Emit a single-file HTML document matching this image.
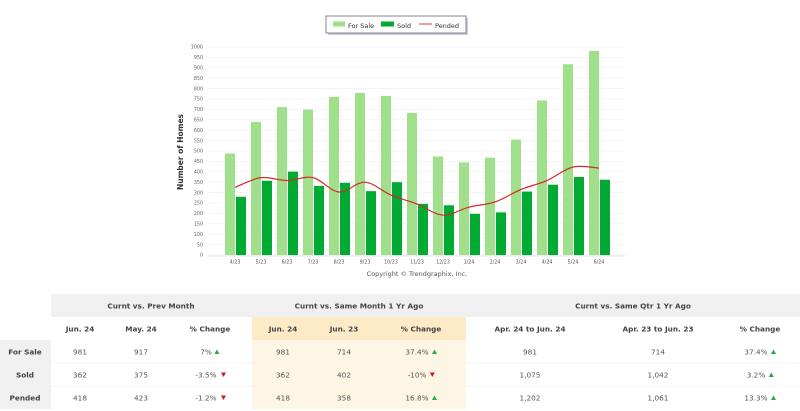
<!DOCTYPE html>
<html><head><meta charset="utf-8"><style>
body{margin:0;width:800px;height:411px;overflow:hidden;background:#fff;font-family:"DejaVu Sans","Liberation Sans",sans-serif;}
svg{position:absolute;left:0;top:0}
</style></head><body>
<svg id="s" width="800" height="411" xmlns="http://www.w3.org/2000/svg">
<rect x="328" y="18" width="140" height="17" fill="#999" opacity="0.5"/>
<rect x="326" y="16" width="140" height="17" fill="#fff" stroke="#7a859c" stroke-width="1"/>
<rect x="333" y="21.5" width="12" height="5" fill="#a0e08a"/>
<text x="348" y="28" font-size="6.5" fill="#333">For Sale</text>
<rect x="381" y="21.5" width="13" height="5" fill="#00aa33"/>
<text x="397" y="28" font-size="6.5" fill="#333">Sold</text>
<line x1="419" y1="24" x2="432" y2="24" stroke="#e08080" stroke-width="1.5"/>
<text x="435" y="28" font-size="6.5" fill="#333">Pended</text>
<g id="g"></g>
<text transform="translate(183,152) rotate(-90)" text-anchor="middle" font-size="7.5" font-weight="bold" fill="#333">Number of Homes</text>
<text x="417" y="276" text-anchor="middle" font-size="6.5" fill="#555">Copyright © Trendgraphix, Inc.</text>
</svg>
<script>
var g=document.getElementById('g'),h='';
function y(v){return 255-v*0.208;}
for(var v=0;v<=1000;v+=50){h+='<line x1="208" x2="625" y1="'+y(v)+'" y2="'+y(v)+'" stroke="#eee" stroke-width="0.6"/>';
h+='<text x="203" y="'+(y(v)+1.7)+'" text-anchor="end" font-size="4.8" fill="#666">'+v+'</text>';}
h+='<line x1="208" x2="625" y1="256" y2="256" stroke="#ddd" stroke-width="0.8"/>';
var fs=[488,640,711,699,760,779,765,683,474,445,468,555,743,917,981],
sd=[280,357,401,332,347,307,350,246,239,198,205,305,338,375,362],
pd=[325,372,358,372,303,350,288,245,192,230,255,315,358,423,418],
lb=['4/23','5/23','6/23','7/23','8/23','9/23','10/23','11/23','12/23','1/24','2/24','3/24','4/24','5/24','6/24'];
var pts=[];
for(var i=0;i<15;i++){var c=235+26*i;
h+='<rect x="'+(c-10)+'" y="'+y(fs[i])+'" width="10" height="'+(fs[i]*0.208)+'" fill="#a0e08a"/>';
h+='<rect x="'+(c+1)+'" y="'+y(sd[i])+'" width="10" height="'+(sd[i]*0.208)+'" fill="#00aa33"/>';
h+='<text x="'+c+'" y="263.5" text-anchor="middle" font-size="4.8" fill="#555">'+lb[i]+'</text>';
pts.push([c,y(pd[i])]);}
var d='M'+pts[0][0]+','+pts[0][1];
for(var i=0;i<14;i++){var p0=pts[Math.max(i-1,0)],p1=pts[i],p2=pts[i+1],p3=pts[Math.min(i+2,14)];
d+=' C'+(p1[0]+(p2[0]-p0[0])/6)+','+(p1[1]+(p2[1]-p0[1])/6)+' '+(p2[0]-(p3[0]-p1[0])/6)+','+(p2[1]-(p3[1]-p1[1])/6)+' '+p2[0]+','+p2[1];}
h+='<path d="'+d+'" fill="none" stroke="#d42a2a" stroke-width="1.2"/>';
// table
h+='<rect x="51" y="294" width="749" height="23" fill="#f0f0f0"/>';
h+='<rect x="252" y="317" width="214" height="23" fill="#fdebc8"/>';
h+='<rect x="252" y="340" width="214" height="69" fill="#fef6e4"/>';
h+='<rect x="0" y="340" width="51" height="69" fill="#f0f0f0"/>';
[363,386].forEach(function(yy){h+='<line x1="51" x2="800" y1="'+yy+'" y2="'+yy+'" stroke="#f2f2f2" stroke-width="0.8"/>';});
function t(x,yy,s,b){h+='<text x="'+x+'" y="'+yy+'" text-anchor="middle" font-size="7.3" fill="'+(b?'#444':'#555')+'"'+(b?' font-weight="bold"':'')+'>'+s+'</text>';}
t(151,308.5,'Curnt vs. Prev Month',1);t(359,308.5,'Curnt vs. Same Month 1 Yr Ago',1);t(633,308.5,'Curnt vs. Same Qtr 1 Yr Ago',1);
var cx=[80,141,210,283,344,421,530,658,760];
['Jun. 24','May. 24','% Change','Jun. 24','Jun. 23','% Change','Apr. 24 to Jun. 24','Apr. 23 to Jun. 23','% Change'].forEach(function(s,i){t(cx[i],331.5,s,1);});
var rows=[['For Sale','981','917','7%',1,'981','714','37.4%',1,'981','714','37.4%',1],
['Sold','362','375','-3.5%',0,'362','402','-10%',0,'1,075','1,042','3.2%',1],
['Pended','418','423','-1.2%',0,'418','358','16.8%',1,'1,202','1,061','13.3%',1]];
rows.forEach(function(r,k){var yy=354.5+23*k;t(25,yy,r[0],1);
var vals=[r[1],r[2],[r[3],r[4]],r[5],r[6],[r[7],r[8]],r[9],r[10],[r[11],r[12]]];
vals.forEach(function(v,i){if(Array.isArray(v)){t(cx[i]-4,yy,v[0],0);var ax=cx[i]-4+v[0].length*2.2+4;
h+=v[1]?'<polygon points="'+ax+','+(yy-0.5)+' '+(ax+5)+','+(yy-0.5)+' '+(ax+2.5)+','+(yy-5)+'" fill="#2aa84a"/>':'<polygon points="'+ax+','+(yy-5)+' '+(ax+5)+','+(yy-5)+' '+(ax+2.5)+','+(yy-0.5)+'" fill="#d01818"/>';}
else t(cx[i],yy,v,0);});});
g.innerHTML=h;
</script>
</body></html>
